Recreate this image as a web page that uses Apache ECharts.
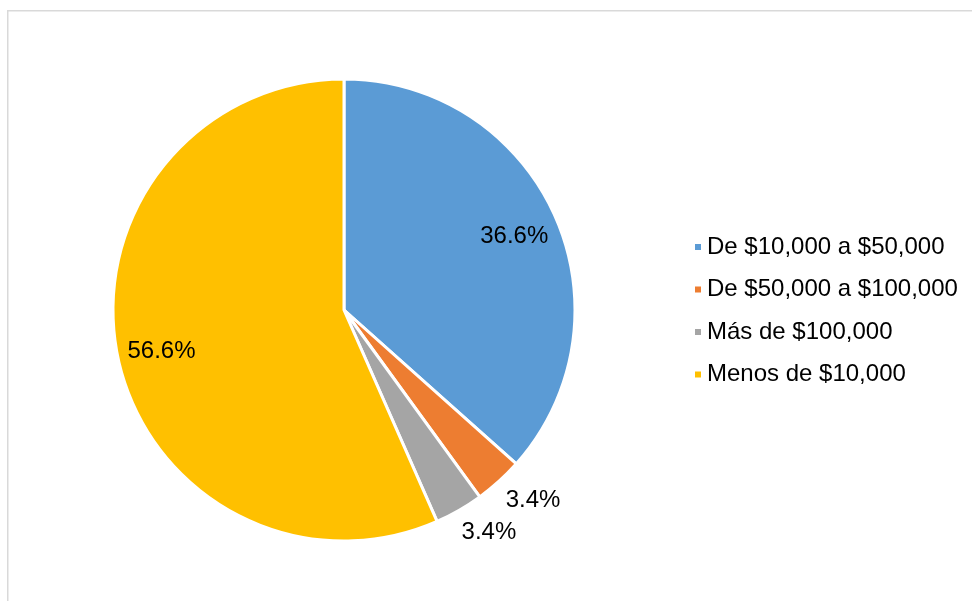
<!DOCTYPE html>
<html>
<head>
<meta charset="utf-8">
<script src="https://cdn.jsdelivr.net/npm/echarts@6/dist/echarts.min.js"></script>
<style>
  html, body { margin: 0; padding: 0; background: #fff; }
  #main { width: 972px; height: 601px; }
</style>
</head>
<body>
<div id="main"></div>
<script>
// 数据
const categories = ['De $10,000 a $50,000', 'De $50,000 a $100,000', 'Más de $100,000', 'Menos de $10,000']
const values = [36.6, 3.4, 3.4, 56.6]
const colors = ['#5B9BD5', '#ED7D31', '#A5A5A5', '#FFC000']

const total = values.reduce((a, b) => a + b, 0)
let acc = 0
const pieData = categories.map((name, i) => {
  const mid = (acc + values[i] / 2) / total * Math.PI * 2
  acc += values[i]
  const big = values[i] > 10
  // 大扇区标签放在内部，往外推一点
  const label = big
    ? { position: 'inside', offset: [Math.sin(mid) * 68, -Math.cos(mid) * 68 + 3] }
    : { position: 'outside' }
  return { name, value: values[i], itemStyle: { color: colors[i] }, label }
})

const myChart = echarts.init(document.getElementById('main'))
const option = {
  animation: false,
  textStyle: { fontFamily: 'Liberation Sans' },
  graphic: [{
    type: 'rect',
    shape: { x: 7.75, y: 10.75, width: 1000, height: 700 },
    style: { fill: 'none', stroke: '#d9d9d9', lineWidth: 1.5 },
    silent: true
  }],
  legend: {
    orient: 'vertical',
    left: 688,
    top: 230,
    icon: 'rect',
    itemWidth: 8,
    itemHeight: 8,
    itemGap: 18.5,
    textStyle: { fontSize: 24, color: '#000', lineHeight: 24, fontFamily: 'Liberation Sans' },
    data: categories
  },
  series: [
    {
      type: 'pie',
      center: [344, 310],
      radius: 231,
      startAngle: 90,
      clockwise: true,
      avoidLabelOverlap: false,
      itemStyle: { borderColor: '#fff', borderWidth: 3 },
      label: {
        show: true,
        formatter: p => p.value.toFixed(1) + '%',
        fontSize: 24,
        color: '#000',
        fontFamily: 'Liberation Sans',
        distanceToLabelLine: -10
      },
      labelLine: { show: false, length: 25, length2: 0 },
      emphasis: { disabled: true },
      data: pieData
    }
  ]
}
myChart.setOption(option)
</script>
</body>
</html>
